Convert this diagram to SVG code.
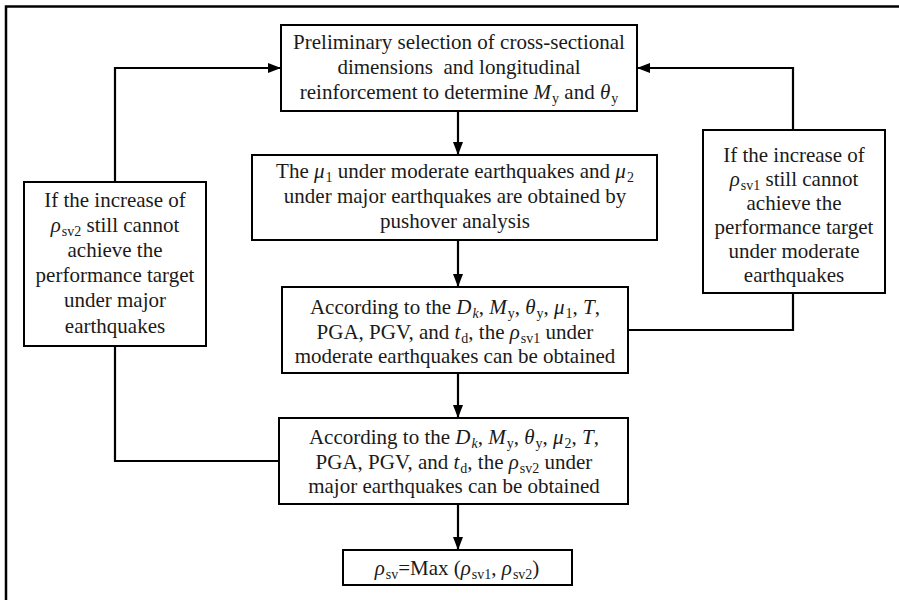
<svg xmlns="http://www.w3.org/2000/svg" width="899" height="600" viewBox="0 0 899 600">
<style>
.box{fill:#fff;stroke:#000;stroke-width:2}
.t{font-family:'Liberation Serif','Times New Roman',serif;font-size:21px;fill:#1a1a1a;text-anchor:middle}
.i{font-style:italic}
.s{font-size:14px;font-style:normal}
.c{fill:none;stroke:#000;stroke-width:2.2}
</style>
<defs>
<marker id="ah" markerUnits="userSpaceOnUse" markerWidth="13" markerHeight="12" viewBox="0 0 13 12" refX="13" refY="6" orient="auto">
<path d="M0,1 L13,6 L0,11 Z" fill="#000"/>
</marker>
</defs>
<rect width="899" height="600" fill="#fff"/>
<path d="M6,600 V6.5 H899" fill="none" stroke="#000" stroke-width="2.5"/>
<g id="connectors">
<path class="c" d="M458,111 V155" marker-end="url(#ah)"/>
<path class="c" d="M458,240 V287" marker-end="url(#ah)"/>
<path class="c" d="M458,373 V418" marker-end="url(#ah)"/>
<path class="c" d="M458,504 V550" marker-end="url(#ah)"/>
<path class="c" d="M115,182 V68 H281" marker-end="url(#ah)"/>
<path class="c" d="M793,130 V68 H637" marker-end="url(#ah)"/>
<path class="c" d="M115,346 V461 H279"/>
<path class="c" d="M793,293 V330 H628"/>
</g>
<g id="n1">
<rect class="box" x="281" y="25" width="356" height="86"/>
<text class="t" x="459" y="49">Preliminary selection of cross-sectional</text>
<text class="t" x="459" y="74" style="white-space:pre">dimensions  and longitudinal</text>
<text class="t" x="459" y="99">reinforcement to determine <tspan class="i">M</tspan><tspan class="s" dx="1" dy="4">y</tspan><tspan dy="-4"> and </tspan><tspan class="i">θ</tspan><tspan class="s" dx="1" dy="4">y</tspan></text>
</g>
<g id="n2">
<rect class="box" x="252" y="155" width="405" height="85"/>
<text class="t" x="455" y="178">The <tspan class="i">μ</tspan><tspan class="s" dx="1" dy="4">1</tspan><tspan dy="-4"> under moderate earthquakes and </tspan><tspan class="i">μ</tspan><tspan class="s" dx="1" dy="4">2</tspan></text>
<text class="t" x="455" y="203">under major earthquakes are obtained by</text>
<text class="t" x="455" y="228">pushover analysis</text>
</g>
<g id="n3">
<rect class="box" x="282" y="287" width="346" height="86"/>
<text class="t" x="455" y="314">According to the <tspan class="i">D</tspan><tspan class="s" dx="1" dy="4" style="font-style:italic">k</tspan><tspan dy="-4">, </tspan><tspan class="i">M</tspan><tspan class="s" dx="1" dy="4">y</tspan><tspan dy="-4">, </tspan><tspan class="i">θ</tspan><tspan class="s" dx="1" dy="4">y</tspan><tspan dy="-4">, </tspan><tspan class="i">μ</tspan><tspan class="s" dx="1" dy="4">1</tspan><tspan dy="-4">, </tspan><tspan class="i">T</tspan>,</text>
<text class="t" x="455" y="339">PGA, PGV, and <tspan class="i">t</tspan><tspan class="s" dx="1" dy="4">d</tspan><tspan dy="-4">, the </tspan><tspan class="i">ρ</tspan><tspan class="s" dx="1" dy="4">sv1</tspan><tspan dy="-4"> under</tspan></text>
<text class="t" x="455" y="363">moderate earthquakes can be obtained</text>
</g>
<g id="n4">
<rect class="box" x="279" y="418" width="349" height="86"/>
<text class="t" x="454" y="444">According to the <tspan class="i">D</tspan><tspan class="s" dx="1" dy="4" style="font-style:italic">k</tspan><tspan dy="-4">, </tspan><tspan class="i">M</tspan><tspan class="s" dx="1" dy="4">y</tspan><tspan dy="-4">, </tspan><tspan class="i">θ</tspan><tspan class="s" dx="1" dy="4">y</tspan><tspan dy="-4">, </tspan><tspan class="i">μ</tspan><tspan class="s" dx="1" dy="4">2</tspan><tspan dy="-4">, </tspan><tspan class="i">T</tspan>,</text>
<text class="t" x="454" y="469">PGA, PGV, and <tspan class="i">t</tspan><tspan class="s" dx="1" dy="4">d</tspan><tspan dy="-4">, the </tspan><tspan class="i">ρ</tspan><tspan class="s" dx="1" dy="4">sv2</tspan><tspan dy="-4"> under</tspan></text>
<text class="t" x="454" y="493">major earthquakes can be obtained</text>
</g>
<g id="n5">
<rect class="box" x="343" y="550" width="229" height="35"/>
<text class="t" x="457" y="575"><tspan class="i">ρ</tspan><tspan class="s" dx="1" dy="4">sv</tspan><tspan dy="-4">=Max (</tspan><tspan class="i">ρ</tspan><tspan class="s" dx="1" dy="4">sv1</tspan><tspan dy="-4">, </tspan><tspan class="i">ρ</tspan><tspan class="s" dx="1" dy="4">sv2</tspan><tspan dy="-4">)</tspan></text>
</g>
<g id="n6">
<rect class="box" x="24" y="182" width="182" height="164"/>
<text class="t" x="115" y="207">If the increase of</text>
<text class="t" x="115" y="232"><tspan class="i">ρ</tspan><tspan class="s" dx="1" dy="4">sv2</tspan><tspan dy="-4"> still cannot</tspan></text>
<text class="t" x="115" y="257">achieve the</text>
<text class="t" x="115" y="282">performance target</text>
<text class="t" x="115" y="307">under major</text>
<text class="t" x="115" y="333">earthquakes</text>
</g>
<g id="n7">
<rect class="box" x="703" y="130" width="182" height="163"/>
<text class="t" x="794" y="162">If the increase of</text>
<text class="t" x="794" y="186"><tspan class="i">ρ</tspan><tspan class="s" dx="1" dy="4">sv1</tspan><tspan dy="-4"> still cannot</tspan></text>
<text class="t" x="794" y="210">achieve the</text>
<text class="t" x="794" y="234">performance target</text>
<text class="t" x="794" y="258">under moderate</text>
<text class="t" x="794" y="282">earthquakes</text>
</g>
</svg>
